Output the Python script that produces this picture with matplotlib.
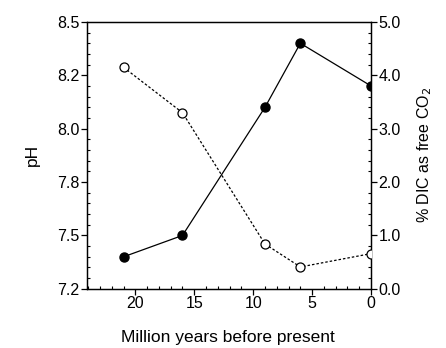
import matplotlib
matplotlib.use("Agg")
import matplotlib.pyplot as plt
from matplotlib.ticker import MultipleLocator, FixedLocator

plt.rcParams["font.family"] = ["Liberation Sans", "DejaVu Sans"]

# Data
age_ma = [21, 16, 9, 6, 0]
ph_values = [7.40, 7.50, 8.10, 8.40, 8.20]
free_co2_pct = [4.15, 3.30, 0.84, 0.41, 0.66]

ph_ticks = [7.25, 7.5, 7.75, 8.0, 8.25, 8.5]
ph_tick_labels = ["7.2", "7.5", "7.8", "8.0", "8.2", "8.5"]
co2_ticks = [0.0, 1.0, 2.0, 3.0, 4.0, 5.0]
age_ticks = [20, 15, 10, 5, 0]

fig = plt.figure(figsize=(4.46, 3.48), dpi=100)
ax = fig.add_axes([0.195, 0.170, 0.637, 0.767])
ax2 = ax.twinx()

ax.plot(age_ma, ph_values, color="black", lw=0.9, marker="o", ms=6.5,
        mfc="black", mec="black", zorder=3)
ax2.plot(age_ma, free_co2_pct, color="black", lw=0.9, ls=(0, (2.0, 1.6)),
         marker="o", ms=6.5, mfc="white", mec="black", mew=0.9, zorder=3)

ax.set_xlim(24.1, 0)
ax.set_ylim(7.25, 8.5)
ax2.set_ylim(0, 5)

ax.xaxis.set_major_locator(FixedLocator(age_ticks))
ax.xaxis.set_minor_locator(MultipleLocator(1))
ax.yaxis.set_major_locator(FixedLocator(ph_ticks))
ax.set_yticklabels(ph_tick_labels)
ax.yaxis.set_minor_locator(MultipleLocator(0.05))
ax2.yaxis.set_major_locator(FixedLocator(co2_ticks))
ax2.set_yticklabels([f"{t:.1f}" for t in co2_ticks])
ax2.yaxis.set_minor_locator(MultipleLocator(0.2))

for a in (ax, ax2):
    a.tick_params(which="major", direction="out", length=4, width=0.9,
                  labelsize=11.5, pad=1.5)
    a.tick_params(which="minor", direction="in", length=2.5, width=0.8)
    for s in a.spines.values():
        s.set_linewidth(0.9)

ax.set_ylabel("pH", fontsize=12.5, labelpad=12)
ax2.set_ylabel("% DIC as free CO$_2$", fontsize=11.5, labelpad=10)

# x label sits low in the original, place it by hand
fig.text(0.512, 0.017, "Million years before present", fontsize=12.5,
         ha="center", va="baseline")

fig.savefig("out.png", dpi=100)
